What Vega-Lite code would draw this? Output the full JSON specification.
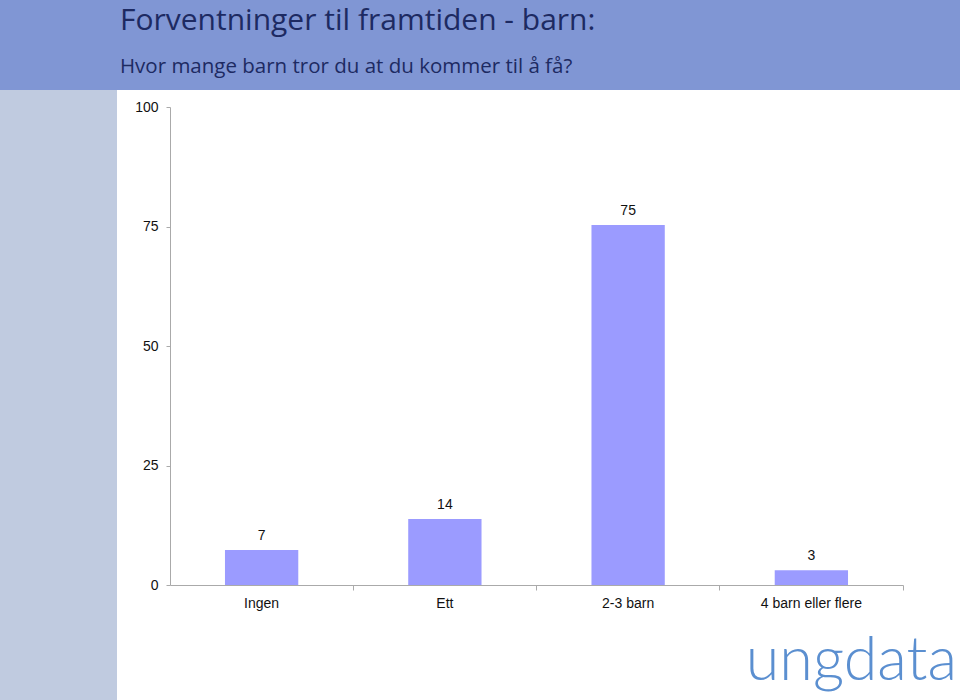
{
  "$schema": "https://vega.github.io/schema/vega-lite/v6.json",
  "background": "#8096d4",
  "padding": {"top": 5, "left": 0, "right": 0, "bottom": 0},
  "spacing": 0,
  "title": {
    "text": "Forventninger til framtiden - barn:",
    "subtitle": "Hvor mange barn tror du at du kommer til å få?",
    "anchor": "start",
    "frame": "bounds",
    "dx": 120,
    "font": "Open Sans",
    "fontSize": 30,
    "fontWeight": "normal",
    "color": "#1d2a62",
    "subtitleFont": "Open Sans",
    "subtitleFontSize": 20.5,
    "subtitleColor": "#1d2a62",
    "subtitlePadding": 21,
    "offset": 13
  },
  "config": {"view": {"stroke": null}},
  "hconcat": [
    {
      "width": 117,
      "height": 610,
      "data": {"values": [{}]},
      "mark": {"type": "rect", "color": "#c0cbe0"}
    },
    {
      "width": 843,
      "height": 610,
      "view": {"fill": "white", "stroke": null},
      "data": {
        "values": [
          {"kategori": "Ingen", "prosent": 7.3},
          {"kategori": "Ett", "prosent": 13.8},
          {"kategori": "2-3 barn", "prosent": 75.3},
          {"kategori": "4 barn eller flere", "prosent": 3.1}
        ]
      },
      "encoding": {
        "x": {
          "field": "kategori",
          "type": "nominal",
          "sort": null,
          "scale": {"range": [53, 786], "paddingInner": 0.6, "paddingOuter": 0.3},
          "axis": {
            "title": null,
            "orient": "bottom",
            "offset": -115,
            "labelAngle": 0,
            "bandPosition": 1.75,
            "labelOffset": 0,
            "tickSize": 5,
            "tickColor": "#aaaaaa",
            "domainColor": "#aaaaaa",
            "labelPadding": 6,
            "labelFont": "Liberation Sans",
            "labelFontSize": 14,
            "labelColor": "#111111"
          }
        },
        "y": {
          "field": "prosent",
          "type": "quantitative",
          "scale": {"domain": [0, 100], "range": [495, 17], "nice": false},
          "axis": {
            "title": null,
            "offset": -53,
            "values": [0, 25, 50, 75, 100],
            "grid": false,
            "tickSize": 4,
            "tickColor": "#aaaaaa",
            "domainColor": "#aaaaaa",
            "labelPadding": 8,
            "labelFont": "Liberation Sans",
            "labelFontSize": 14,
            "labelColor": "#111111"
          }
        }
      },
      "layer": [
        {"mark": {"type": "bar", "color": "#9b9bff"}},
        {
          "mark": {"type": "text", "baseline": "bottom", "dy": -7, "font": "Liberation Sans", "fontSize": 14, "color": "#111111"},
          "encoding": {"text": {"field": "prosent", "type": "quantitative", "format": ".0f"}}
        },
        {
          "data": {"values": [{"logo": "ungdata", "kategori": "4 barn eller flere", "pos": -19.9}]},
          "mark": {"type": "text", "baseline": "alphabetic", "align": "center", "dx": 40, "font": "Lato", "fontWeight": 300, "fontSize": 61, "color": "#5b8fd0"},
          "encoding": {
            "x": {"field": "kategori", "type": "nominal"},
            "y": {"field": "pos", "type": "quantitative"},
            "text": {"field": "logo"}
          }
        }
      ]
    }
  ]
}
